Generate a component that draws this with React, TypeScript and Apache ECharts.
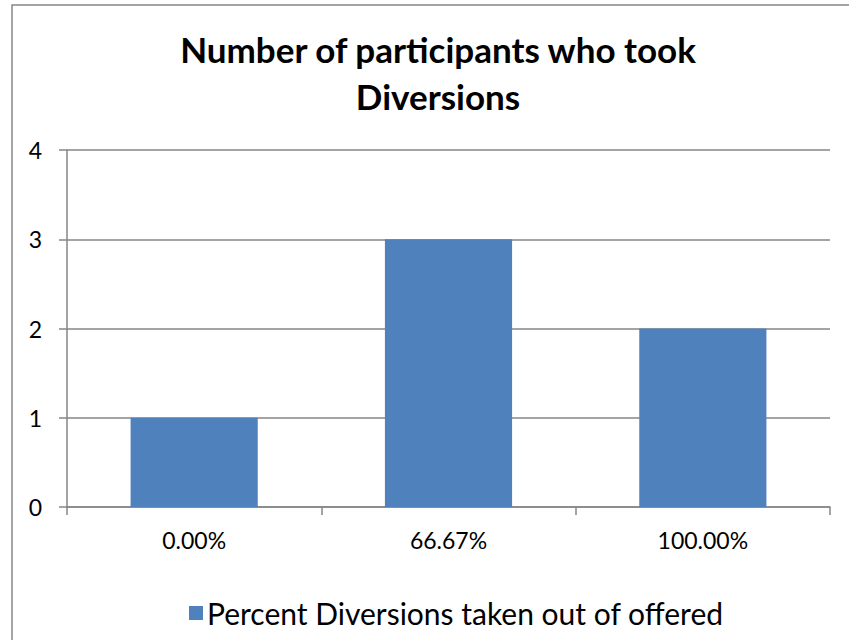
import React, { useEffect, useRef } from "react";
import * as echarts from "echarts";

const titleText = "Number of participants who took\nDiversions";
const categories = ["0.00%", "66.67%", "100.00%"];
const seriesName = "Percent Diversions taken out of offered";
const values = [1, 3, 2];
const yTicks = { min: 0, max: 4, interval: 1 };

const FONT = "Lato, 'Open Sans', sans-serif";
const GRAY = "#868686";

export default function App() {
  const ref = useRef<HTMLDivElement>(null);
  useEffect(() => {
    if (!ref.current) return;
    const chart = echarts.init(ref.current, null, { renderer: "svg" });
    chart.setOption({
      animation: false,
      backgroundColor: "#ffffff",
      graphic: [
        {
          type: "rect",
          shape: { x: 12, y: 5, width: 900, height: 700 },
          style: { fill: "none", stroke: GRAY, lineWidth: 1.5 },
          silent: true,
        },
      ],
      title: {
        text: titleText,
        left: 433,
        textAlign: "center",
        top: 20,
        textStyle: {
          fontFamily: FONT,
          fontWeight: "bold",
          fontSize: 35,
          lineHeight: 47,
          color: "#000",
        },
      },
      legend: {
        left: 184,
        top: 593,
        itemWidth: 14,
        itemHeight: 14,
        itemGap: 10,
        icon: "rect",
        data: [seriesName],
        textStyle: { fontFamily: FONT, fontSize: 30, color: "#000", padding: [0, 0, 0, -1] },
      },
      grid: { left: 67, right: 19, top: 150, bottom: 133, containLabel: false },
      xAxis: {
        type: "category",
        data: categories,
        axisLine: { lineStyle: { color: GRAY, width: 1.5 } },
        axisTick: { show: true, length: 8, alignWithLabel: false, lineStyle: { color: GRAY, width: 1.5 } },
        axisLabel: { fontFamily: FONT, fontSize: 23, color: "#000", margin: 21 },
        splitLine: { show: false },
      },
      yAxis: {
        type: "value",
        min: yTicks.min,
        max: yTicks.max,
        interval: yTicks.interval,
        axisLine: { show: true, lineStyle: { color: GRAY, width: 1.5 } },
        axisTick: { show: true, length: 8, lineStyle: { color: GRAY, width: 1.5 } },
        axisLabel: { fontFamily: FONT, fontSize: 23, color: "#000", margin: 25 },
        splitLine: { show: true, lineStyle: { color: GRAY, width: 1.5 } },
      },
      series: [
        {
          name: seriesName,
          type: "bar",
          data: values,
          barCategoryGap: "50%",
          itemStyle: { color: "#4F81BD" },
        },
      ],
    });
    return () => chart.dispose();
  }, []);
  return <div ref={ref} style={{ width: 849, height: 640, position: "absolute", left: 0, top: 0 }} />;
}
